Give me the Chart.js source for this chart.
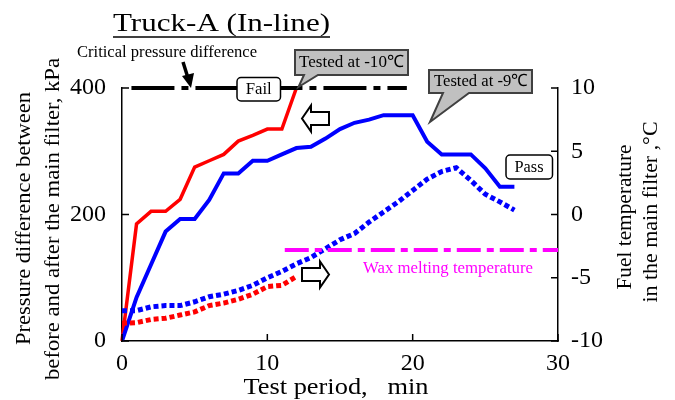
<!DOCTYPE html>
<html>
<head>
<meta charset="utf-8">
<script src="https://cdn.jsdelivr.net/npm/chart.js@4.4.1/dist/chart.umd.min.js"></script>
<style>
  body { margin: 0; background: #fff; }
  #wrap { width: 675px; height: 400px; }
</style>
</head>
<body>
<div id="wrap"><canvas id="truck-chart" width="675" height="400"></canvas></div>
<script>
// test period, min
const minutesLong = [0,1,2,3,4,5,6,7,8,9,10,11,12,13,14,15,16,17,18,19,20,21,22,23,24,25,26,27];
const minutesShort = [0,1,2,3,4,5,6,7,8,9,10,11,12];

// pressure difference, kPa
const pressureM10 = [0,185,205,205,224,275,285,295,316,325,335,335,400];
const pressureM9 = [0,69,121,173,193,193,223,265,265,285,285,295,305,307,320,335,345,350,357,357,357,315,295,295,295,273,244,244];

// fuel temperature, C
const tempM10 = [-8.6,-8.55,-8.3,-8.2,-7.95,-7.7,-7.2,-7.0,-6.7,-6.3,-5.7,-5.6,-4.9];
const tempM9 = [-7.6,-7.6,-7.3,-7.2,-7.2,-6.9,-6.5,-6.3,-6.0,-5.6,-5.0,-4.5,-3.9,-3.4,-2.7,-2.0,-1.5,-0.6,0.2,1.0,1.9,2.8,3.4,3.7,2.7,1.6,1.0,0.35];

// reference lines
const criticalPressure = 400;
const criticalSpan = [0.65, 19.6];
const waxMeltTemp = -2.8;
const waxSpan = [11.2, 30];

const xTicks = [0, 10, 20, 30];

const pts = (xs, ys) => ys.map((v, i) => ({ x: xs[i], y: v }));
const SERIF = '"Liberation Serif", "Times New Roman", serif';

function txt(ctx, s, x, y, size, w, color, rot) {
  ctx.save();
  ctx.font = size + 'px ' + SERIF;
  ctx.fillStyle = color || '#000';
  ctx.textAlign = 'center';
  ctx.textBaseline = 'middle';
  ctx.translate(x, y);
  if (rot) ctx.rotate(rot);
  if (w) {
    const m = ctx.measureText(s).width;
    ctx.scale(w / m, 1);
  }
  ctx.fillText(s, 0, 0);
  ctx.restore();
}

function roundBox(ctx, x, y, w, h, r) {
  ctx.beginPath();
  ctx.roundRect(x, y, w, h, r);
  ctx.fillStyle = '#fff';
  ctx.fill();
  ctx.lineWidth = 1.5;
  ctx.strokeStyle = '#000';
  ctx.stroke();
}

function callout(ctx, x, y, w, h, b1, b2, tx, ty) {
  ctx.beginPath();
  ctx.moveTo(x, y);
  ctx.lineTo(x + w, y);
  ctx.lineTo(x + w, y + h);
  ctx.lineTo(b2, y + h);
  ctx.lineTo(tx, ty);
  ctx.lineTo(b1, y + h);
  ctx.lineTo(x, y + h);
  ctx.closePath();
  ctx.fillStyle = '#c0c0c0';
  ctx.fill();
  ctx.lineWidth = 2;
  ctx.strokeStyle = '#404040';
  ctx.stroke();
}

function openArrow(ctx, tipX, cy, dir) {
  // dir -1 points left, 1 points right
  const len = 27, head = 9, bh = 6.5, hh = 13;
  const back = tipX - dir * len, neck = tipX - dir * head;
  ctx.beginPath();
  ctx.moveTo(tipX, cy);
  ctx.lineTo(neck, cy - hh);
  ctx.lineTo(neck, cy - bh);
  ctx.lineTo(back, cy - bh);
  ctx.lineTo(back, cy + bh);
  ctx.lineTo(neck, cy + bh);
  ctx.lineTo(neck, cy + hh);
  ctx.closePath();
  ctx.fillStyle = '#fff';
  ctx.fill();
  ctx.lineWidth = 2;
  ctx.strokeStyle = '#000';
  ctx.stroke();
}

const decorations = {
  id: 'decorations',
  afterDatasetsDraw(chart) {
    const ctx = chart.ctx;
    const { x, y, y1 } = chart.scales;
    const area = chart.chartArea;

    // inward tick marks
    ctx.save();
    ctx.strokeStyle = '#000';
    ctx.lineWidth = 1.5;
    ctx.beginPath();
    x.ticks.forEach(t => {
      const px = x.getPixelForValue(t.value);
      ctx.moveTo(px, area.bottom);
      ctx.lineTo(px, area.bottom - 7);
    });
    y.ticks.forEach(t => {
      const py = y.getPixelForValue(t.value);
      ctx.moveTo(area.left, py);
      ctx.lineTo(area.left + 7, py);
    });
    y1.ticks.forEach(t => {
      const py = y1.getPixelForValue(t.value);
      ctx.moveTo(area.right, py);
      ctx.lineTo(area.right - 7, py);
    });
    ctx.stroke();
    ctx.restore();

    // title with underline
    txt(ctx, 'Truck-A (In-line)', 221.5, 24, 26, 217);
    ctx.save();
    ctx.strokeStyle = '#000';
    ctx.lineWidth = 1.5;
    ctx.beginPath();
    ctx.moveTo(113, 37);
    ctx.lineTo(330, 37);
    ctx.stroke();
    ctx.restore();

    // axis titles
    txt(ctx, 'Pressure difference between', 25, 218.5, 20, 253, '#000', -Math.PI / 2);
    txt(ctx, 'before and after the main filter, kPa', 54, 219, 20, 322, '#000', -Math.PI / 2);
    txt(ctx, 'Fuel temperature', 626, 217, 20, 145, '#000', -Math.PI / 2);
    txt(ctx, 'in the main filter ,\u00B0C', 652, 212, 20, 181, '#000', -Math.PI / 2);
    txt(ctx, 'Test period,   min', 336, 388, 23, 185);

    // critical pressure note + arrow
    txt(ctx, 'Critical pressure difference', 167, 53, 16, 180);
    ctx.save();
    ctx.strokeStyle = '#000';
    ctx.fillStyle = '#000';
    ctx.lineWidth = 3.5;
    ctx.beginPath();
    ctx.moveTo(183, 62);
    ctx.lineTo(188, 78);
    ctx.stroke();
    ctx.beginPath();
    ctx.moveTo(191, 88);
    ctx.lineTo(182, 76);
    ctx.lineTo(194, 73);
    ctx.closePath();
    ctx.fill();
    ctx.restore();

    // Fail / Pass labels
    roundBox(ctx, 237, 77.5, 43.5, 23.5, 4);
    txt(ctx, 'Fail', 258.7, 89.5, 16, 26);
    roundBox(ctx, 506, 155, 46.5, 24, 4);
    txt(ctx, 'Pass', 529, 167.5, 16, 29);

    // callouts
    callout(ctx, 295, 50, 113, 25, 304, 318, 298.5, 87);
    txt(ctx, 'Tested at -10\u2103', 351.5, 62.5, 17, 105);
    callout(ctx, 429, 70, 103, 23, 443, 469, 430, 122);
    txt(ctx, 'Tested at -9\u2103', 481, 82, 17, 94);

    // open arrows
    openArrow(ctx, 302, 118.5, -1);
    openArrow(ctx, 329, 274.5, 1);

    // wax label
    txt(ctx, 'Wax melting temperature', 448, 268.5, 16, 170, '#ff00ff');
  }
};

const ctx = document.getElementById('truck-chart');

new Chart(ctx, {
  type: 'line',
  data: {
    datasets: [
      {
        label: 'Critical pressure difference',
        data: [{ x: criticalSpan[0], y: criticalPressure }, { x: criticalSpan[1], y: criticalPressure }],
        yAxisID: 'y',
        borderColor: '#000',
        borderWidth: 4,
        borderDash: [43, 7, 7, 7],
        pointRadius: 0,
        clip: false
      },
      {
        label: 'Wax melting temperature',
        data: [{ x: waxSpan[0], y: waxMeltTemp }, { x: waxSpan[1], y: waxMeltTemp }],
        yAxisID: 'y1',
        borderColor: '#ff00ff',
        borderWidth: 4,
        borderDash: [24, 6, 7, 6],
        pointRadius: 0,
        clip: false
      },
      {
        label: 'Temperature -9C',
        data: pts(minutesLong, tempM9),
        yAxisID: 'y1',
        borderColor: '#0000ff',
        borderWidth: 5,
        borderDash: [5, 3],
        pointRadius: 0
      },
      {
        label: 'Temperature -10C',
        data: pts(minutesShort, tempM10),
        yAxisID: 'y1',
        borderColor: '#ff0000',
        borderWidth: 5,
        borderDash: [5, 3],
        pointRadius: 0
      },
      {
        label: 'Pressure -9C',
        data: pts(minutesLong, pressureM9),
        yAxisID: 'y',
        borderColor: '#0000ff',
        borderWidth: 4,
        pointRadius: 0
      },
      {
        label: 'Pressure -10C',
        data: pts(minutesShort, pressureM10),
        yAxisID: 'y',
        borderColor: '#ff0000',
        borderWidth: 3.5,
        pointRadius: 0,
        clip: false
      }
    ]
  },
  options: {
    responsive: false,
    animation: false,
    layout: { padding: { top: 88, left: 0, right: 0, bottom: 0 } },
    plugins: {
      legend: { display: false },
      tooltip: { enabled: false }
    },
    scales: {
      x: {
        type: 'linear',
        min: 0,
        max: 30,
        afterBuildTicks: s => { s.ticks = xTicks.map(v => ({ value: v })); },
        afterFit: s => { s.height = 59; },
        grid: { display: false },
        border: { display: true, color: '#000', width: 1.5 },
        ticks: {
          padding: 0,
          color: '#000',
          maxRotation: 0,
          font: { family: SERIF, size: 24 }
        }
      },
      y: {
        position: 'left',
        min: 0,
        max: 400,
        afterFit: s => { s.width = 122; },
        grid: { display: false },
        border: { display: true, color: '#000', width: 1.5 },
        ticks: {
          stepSize: 200,
          padding: 8,
          color: '#000',
          font: { family: SERIF, size: 24 }
        }
      },
      y1: {
        position: 'right',
        min: -10,
        max: 10,
        afterFit: s => { s.width = 117; },
        grid: { display: false },
        border: { display: true, color: '#000', width: 1.5 },
        ticks: {
          stepSize: 5,
          padding: 5,
          color: '#000',
          font: { family: SERIF, size: 24 }
        }
      }
    }
  },
  plugins: [decorations]
});
</script>
</body>
</html>
